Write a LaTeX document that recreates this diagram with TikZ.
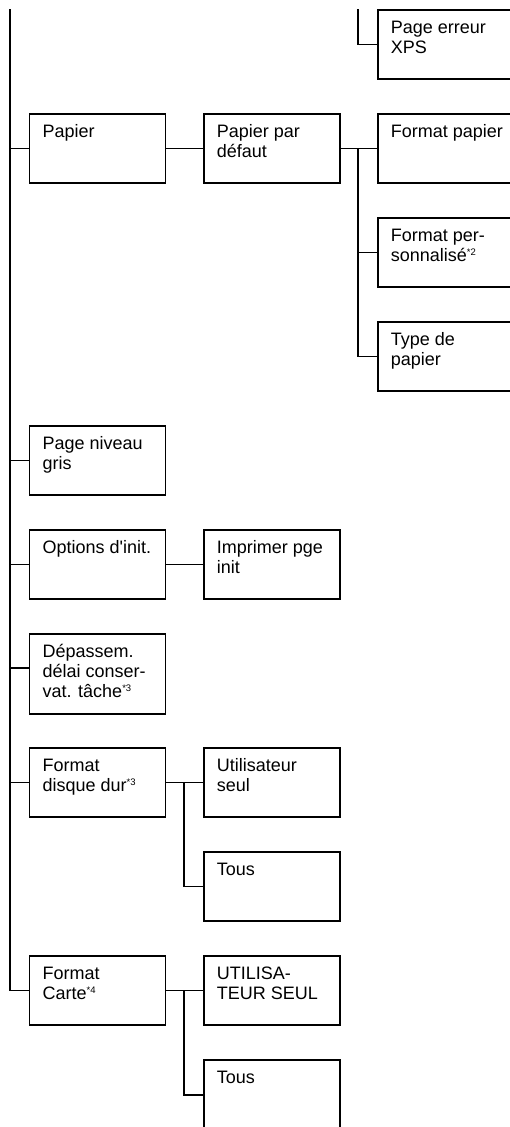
\documentclass[tikz,border=0pt]{standalone}
\usepackage{fontspec}
\setmainfont{Liberation Sans}
\newcommand{\fnote}[1]{{\fontsize{9.5}{9.5}\selectfont\raisebox{6.5pt}{*#1}}}
\newcommand{\bx}[2]{\parbox[b][#1pt][t]{136pt}{\raggedright\leftskip=13pt\rule{0pt}{23.7pt}#2}}
\tikzset{
  mbox/.style={draw, line width=1.7pt, inner sep=0pt, anchor=north west,
    font=\fontsize{18}{20}\selectfont},
  conn/.style={line width=1.7pt}
}
\begin{document}
\begin{tikzpicture}[x=1pt,y=-1pt]
\clip (0,0) rectangle (510,1127);
\fill[white] (0,0) rectangle (510,1127);
% column anchors
\coordinate (top) at (10,9);
\coordinate (jb) at (184,9);
\coordinate (jc) at (358,9);
% boxes
\node[mbox] (xps)   at (377,9)    {\bx{69}{Page erreur\\XPS}};
\node[mbox] (pap)   at (28.7,113) {\bx{69}{Papier}};
\node[mbox] (ppd)   at (203,113)  {\bx{69}{Papier par\\défaut}};
\node[mbox] (fpap)  at (377,113)  {\bx{69}{Format papier}};
\node[mbox] (fper)  at (377,217)  {\bx{69}{Format per-\\sonnalisé\fnote{2}}};
\node[mbox] (tpap)  at (377,321)  {\bx{69}{Type de\\papier}};
\node[mbox] (png)   at (28.7,425) {\bx{69}{Page niveau\\gris}};
\node[mbox] (opt)   at (28.7,529) {\bx{69}{Options d\textquotesingle init.}};
\node[mbox] (imp)   at (203,529)  {\bx{69}{Imprimer pge\\init}};
\node[mbox] (dep)   at (28.7,633) {\bx{80}{Dépassem.\\délai conser-\\vat. tâche\fnote{3}}};
\node[mbox] (fdd)   at (28.7,747) {\bx{69}{Format\\disque dur\fnote{3}}};
\node[mbox] (util)  at (203,747)  {\bx{69}{Utilisateur\\seul}};
\node[mbox] (tous1) at (203,851)  {\bx{69}{Tous}};
\node[mbox] (fcar)  at (28.7,955) {\bx{69}{Format\\Carte\fnote{4}}};
\node[mbox] (usr)   at (203,955)  {\bx{69}{UTILISA-\\TEUR SEUL}};
\node[mbox] (tous2) at (203,1059) {\bx{70}{Tous}};
% main trunk
\draw[conn] (top) |- (fcar.west);
\draw[conn] (pap.west -| top) -- (pap.west);
\draw[conn] (png.west -| top) -- (png.west);
\draw[conn] (opt.west -| top) -- (opt.west);
\draw[conn] ([yshift=-35pt]dep.north west -| top) -- ([yshift=-35pt]dep.north west);
\draw[conn] (fdd.west -| top) -- (fdd.west);
% column 3 branches
\draw[conn] (jc) |- (xps.west);
\draw[conn] (pap.east) -- (ppd.west);
\draw[conn] (ppd.east) -- (fpap.west);
\draw[conn] (fpap.west -| jc) |- (tpap.west);
\draw[conn] (fper.west -| jc) -- (fper.west);
% column 2 branches
\draw[conn] (opt.east) -- (imp.west);
\draw[conn] (fdd.east) -- (util.west);
\draw[conn] (util.west -| jb) |- (tous1.west);
\draw[conn] (fcar.east) -- (usr.west);
\draw[conn] (usr.west -| jb) |- (tous2.west);
\end{tikzpicture}
\end{document}
